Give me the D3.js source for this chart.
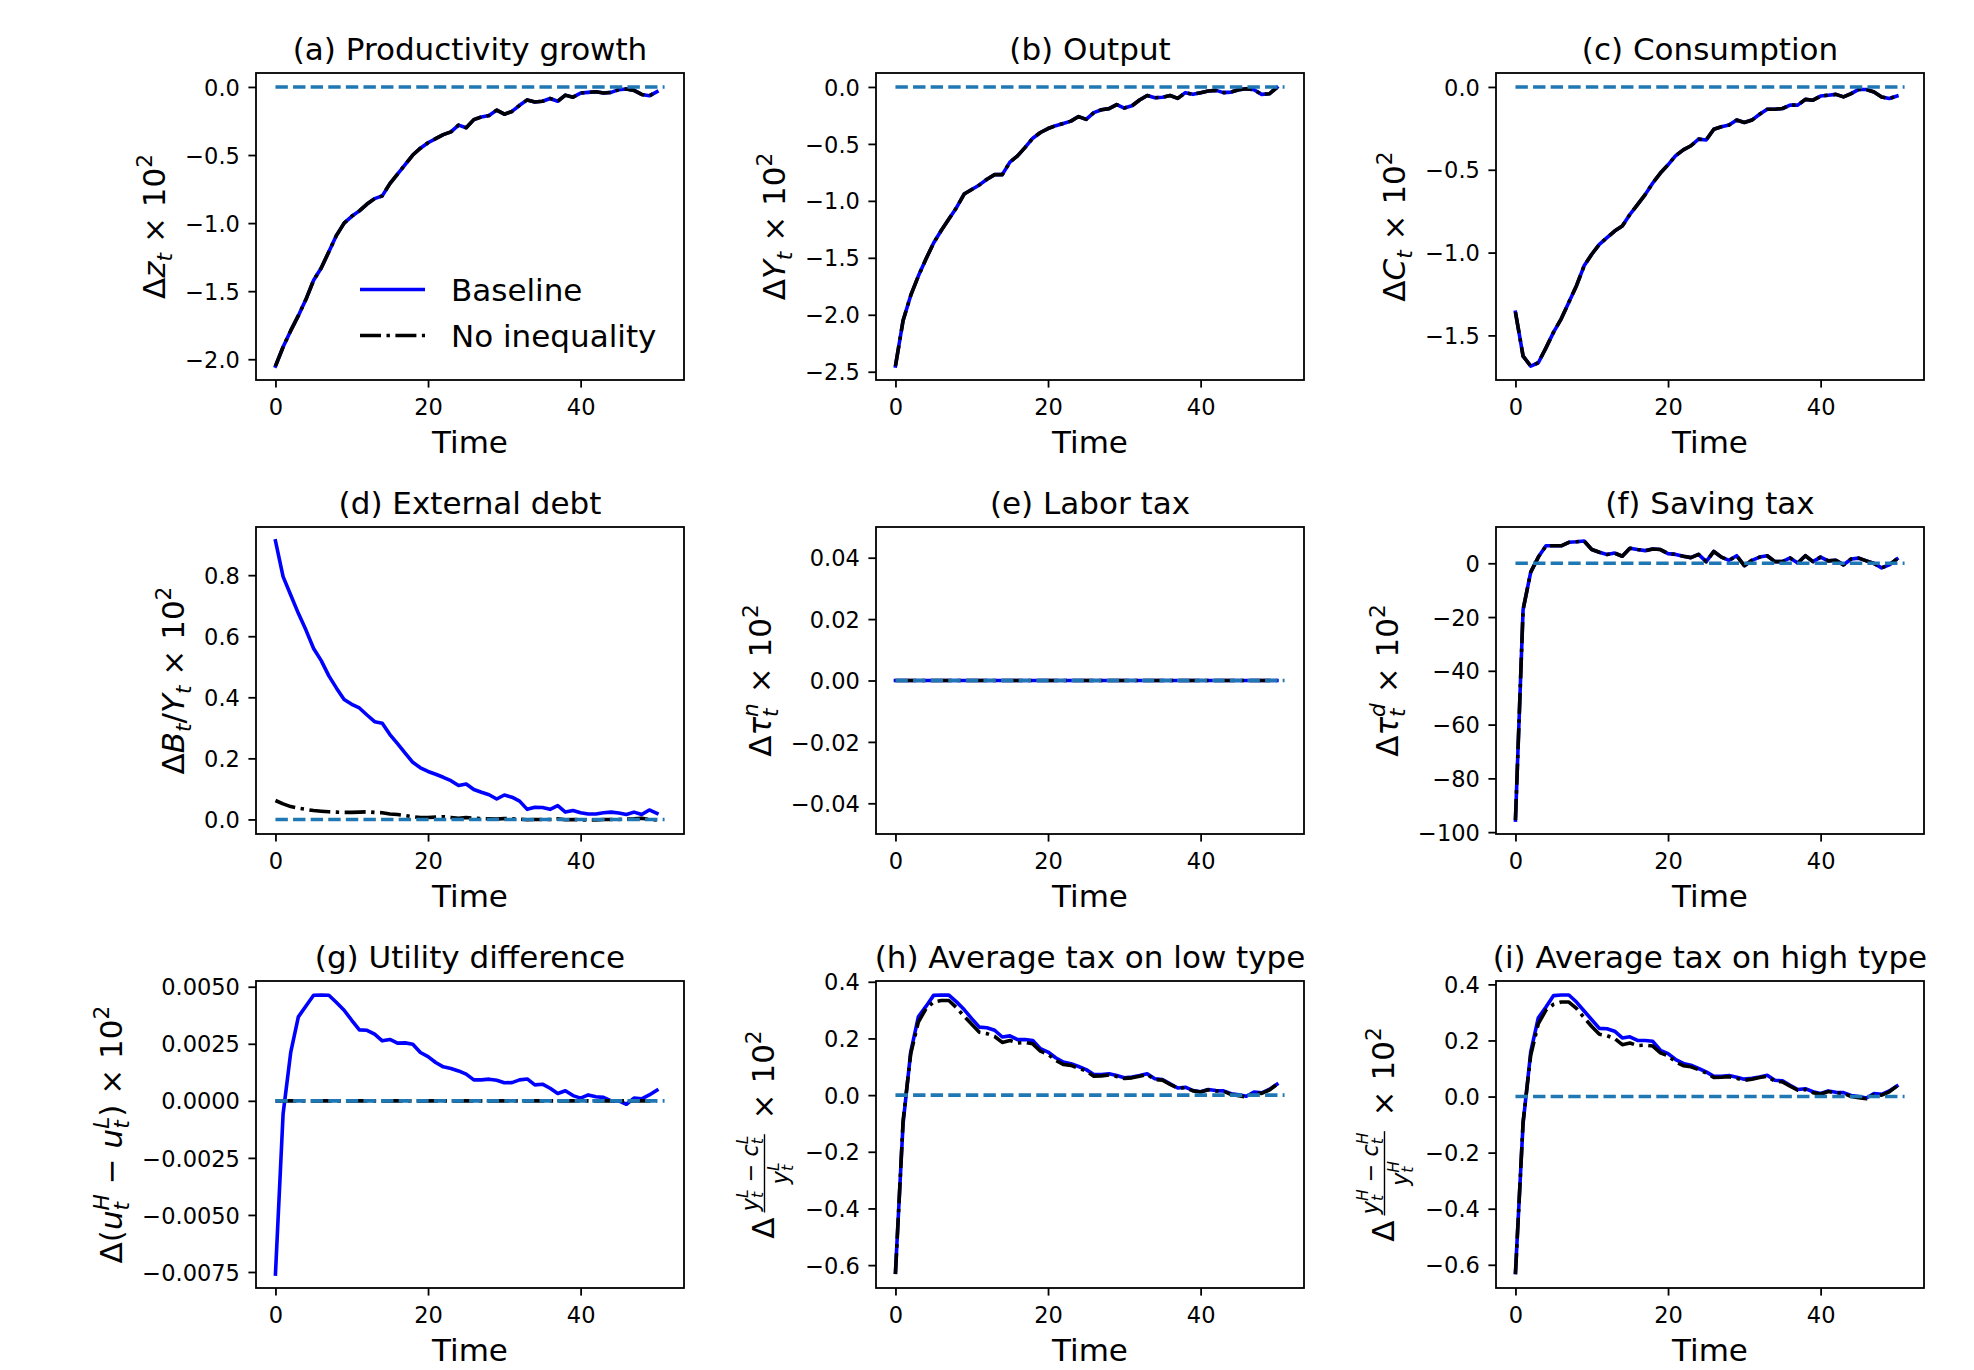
<!DOCTYPE html>
<html>
<head>
<meta charset="utf-8">
<script src="https://cdn.jsdelivr.net/npm/d3@7"></script>
<style>
  body { margin: 0; background: #fff; }
  svg text { font-family: "DejaVu Sans", sans-serif; white-space: pre; }
</style>
</head>
<body>
<svg id="fig" width="1974" height="1370"></svg>
<script>
// ---- data ----
var time = [0,1,2,3,4,5,6,7,8,9,10,11,12,13,14,15,16,17,18,19,20,21,22,23,24,25,
            26,27,28,29,30,31,32,33,34,35,36,37,38,39,40,41,42,43,44,45,46,47,48,49,50];
var zeroSpan = [0, 51];
var xTicks = [0, 20, 40];

var productivity = [-2.05,-1.91,-1.79,-1.68,-1.56,-1.42,-1.33,-1.21,-1.09,-1.00,
  -0.95,-0.91,-0.86,-0.82,-0.80,-0.71,-0.64,-0.57,-0.50,-0.45,
  -0.41,-0.38,-0.35,-0.33,-0.28,-0.30,-0.24,-0.22,-0.21,-0.17,
  -0.20,-0.18,-0.135,-0.095,-0.11,-0.105,-0.085,-0.105,-0.06,-0.075,
  -0.045,-0.04,-0.035,-0.045,-0.04,-0.02,-0.015,-0.025,-0.055,-0.065,-0.035];

var output = [-2.45,-2.05,-1.83,-1.66,-1.51,-1.37,-1.26,-1.16,-1.06,-0.94,
  -0.90,-0.86,-0.81,-0.77,-0.77,-0.66,-0.605,-0.53,-0.45,-0.40,
  -0.365,-0.34,-0.32,-0.30,-0.26,-0.285,-0.225,-0.20,-0.19,-0.155,
  -0.185,-0.165,-0.115,-0.075,-0.095,-0.09,-0.075,-0.10,-0.05,-0.065,
  -0.05,-0.035,-0.03,-0.05,-0.045,-0.025,-0.015,-0.025,-0.065,-0.06,-0.005];

var consumption = [-1.36,-1.625,-1.685,-1.665,-1.575,-1.48,-1.40,-1.30,-1.20,-1.08,
  -1.01,-0.95,-0.91,-0.87,-0.84,-0.77,-0.71,-0.65,-0.58,-0.52,
  -0.47,-0.415,-0.38,-0.355,-0.315,-0.32,-0.255,-0.24,-0.23,-0.20,
  -0.215,-0.20,-0.165,-0.135,-0.135,-0.13,-0.11,-0.11,-0.075,-0.08,
  -0.055,-0.05,-0.045,-0.06,-0.04,-0.015,-0.015,-0.03,-0.06,-0.07,-0.055];

var debtBase = [0.912,0.795,0.735,0.675,0.62,0.56,0.52,0.47,0.43,0.393,
  0.377,0.365,0.342,0.32,0.315,0.278,0.248,0.217,0.187,0.169,
  0.157,0.148,0.138,0.127,0.111,0.116,0.098,0.089,0.081,0.067,
  0.080,0.073,0.06,0.033,0.04,0.039,0.033,0.045,0.024,0.029,
  0.022,0.018,0.018,0.022,0.024,0.021,0.016,0.024,0.016,0.031,0.02];

var debtNoIneq = [0.062,0.051,0.042,0.037,0.033,0.029,0.027,0.025,0.024,0.023,
  0.023,0.024,0.025,0.023,0.022,0.018,0.016,0.013,0.009,0.0065,
  0.0065,0.0075,0.009,0.0065,0.004,0.0065,0.004,0.003,0.002,0.001,
  0.003,0.002,0.001,-0.001,0,0,0,0.002,-0.001,0,
  -0.001,-0.002,-0.002,0,0,0,0.001,0.002,0.004,0,-0.002];

var laborTax = [0,0,0,0,0,0,0,0,0,0,0,0,0,0,0,0,0,0,0,0,0,0,0,0,0,0,
  0,0,0,0,0,0,0,0,0,0,0,0,0,0,0,0,0,0,0,0,0,0,0,0,0];

var savingTax = [-95.5,-17.2,-3.3,2.3,6.5,6.5,6.5,7.8,8.0,8.3,
  5.1,4.1,3.3,3.8,2.6,5.6,5.1,4.7,5.3,5.1,
  3.6,3.3,2.6,2.1,3.3,0.6,4.4,2.3,1.1,2.8,
  -0.9,1.1,2.3,2.8,0.6,0.6,2.0,0.1,2.8,0.6,
  2.3,0.9,1.1,-0.6,1.6,1.9,0.9,-0.1,-1.7,-0.6,1.6];

var utilBase = [-0.00759,-0.00058,0.00212,0.00368,0.00416,0.00463,0.00464,0.00463,0.00431,0.00397,
  0.00353,0.00311,0.00309,0.00292,0.00263,0.00269,0.00253,0.00254,0.00248,0.00212,
  0.00194,0.00168,0.00149,0.00142,0.00131,0.00117,0.00092,0.00092,0.00095,0.0009,
  0.00079,0.0008,0.00092,0.00096,0.0007,0.00073,0.00055,0.00032,0.00044,0.00023,
  0.00012,0.00026,0.00018,0.00015,0,0,-0.00015,0.00012,0.00009,0.00026,0.00047];

var utilNoIneq = [0,0,0,0,0,0,0,0,0,0,0,0,0,0,0,0,0,0,0,0,0,0,0,0,0,0,
  0,0,0,0,0,0,0,0,0,0,0,0,0,0,0,0,0,0,0,0,0,0,0,0,0];

var lowTaxBase = [-0.625,-0.10,0.152,0.276,0.313,0.352,0.3535,0.353,0.329,0.302,
  0.27,0.24,0.238,0.229,0.205,0.209,0.196,0.196,0.193,0.164,
  0.152,0.132,0.117,0.111,0.101,0.09,0.073,0.073,0.075,0.069,
  0.061,0.064,0.069,0.075,0.058,0.055,0.04,0.025,0.028,0.016,
  0.012,0.02,0.016,0.015,0.005,0.001,-0.004,0.011,0.008,0.02,0.038];

var lowTaxNoIneq = [-0.6315,-0.09,0.146,0.258,0.305,0.329,0.334,0.334,0.309,0.278,
  0.25,0.222,0.217,0.207,0.186,0.193,0.184,0.186,0.181,0.155,
  0.144,0.123,0.108,0.105,0.095,0.085,0.067,0.068,0.071,0.066,
  0.059,0.061,0.067,0.073,0.055,0.053,0.038,0.024,0.026,0.015,
  0.011,0.019,0.015,0.014,0.002,-0.002,-0.007,0.008,0.006,0.018,0.038];

var highTaxBase = [-0.628,-0.096,0.159,0.281,0.319,0.36,0.3623,0.362,0.337,0.305,
  0.274,0.243,0.242,0.233,0.209,0.213,0.2,0.2,0.197,0.165,
  0.153,0.132,0.118,0.112,0.1,0.088,0.072,0.072,0.075,0.069,
  0.062,0.065,0.07,0.076,0.058,0.056,0.04,0.025,0.028,0.017,
  0.011,0.02,0.015,0.014,0.004,0,-0.005,0.011,0.008,0.02,0.038];

var highTaxNoIneq = [-0.633,-0.09,0.147,0.26,0.308,0.329,0.337,0.337,0.314,0.281,
  0.25,0.222,0.217,0.207,0.185,0.191,0.182,0.183,0.18,0.156,
  0.145,0.124,0.11,0.106,0.096,0.084,0.068,0.069,0.071,0.065,
  0.058,0.062,0.068,0.072,0.055,0.052,0.037,0.023,0.025,0.014,
  0.008,0.018,0.013,0.012,0,-0.004,-0.008,0.007,0.005,0.017,0.037];

var yTicksA = [-2.0, -1.5, -1.0, -0.5, 0.0];
var yTicksB = [-2.5, -2.0, -1.5, -1.0, -0.5, 0.0];
var yTicksC = [-1.5, -1.0, -0.5, 0.0];
var yTicksD = [0.0, 0.2, 0.4, 0.6, 0.8];
var yTicksE = [-0.04, -0.02, 0.00, 0.02, 0.04];
var yTicksF = [-100, -80, -60, -40, -20, 0];
var yTicksG = [-0.0075, -0.005, -0.0025, 0, 0.0025, 0.005];
var yTicksH = [-0.6, -0.4, -0.2, 0.0, 0.2, 0.4];

var legendLabels = ["Baseline", "No inequality"];

// ---- y-axis labels as little math layouts ----
var sub = function(s) { return {s: s, it: 1, k: 0.7, dy: 0.22}; };
var sup = function(s, it) { return {s: s, it: it, k: 0.7, dy: -0.42, back: 1}; };
var times = [{s: " \u00d7 10"}, {s: "2", k: 0.7, dy: -0.42}];

var panels = [
  {title: "(a) Productivity growth", base: productivity, noIneq: productivity, ticks: yTicksA, fmt: ".1f",
   label: [{s: "\u0394"}, {s: "z", it: 1}, sub("t")].concat(times), legend: true},
  {title: "(b) Output", base: output, noIneq: output, ticks: yTicksB, fmt: ".1f",
   label: [{s: "\u0394"}, {s: "Y", it: 1}, sub("t")].concat(times)},
  {title: "(c) Consumption", base: consumption, noIneq: consumption, ticks: yTicksC, fmt: ".1f",
   label: [{s: "\u0394"}, {s: "C", it: 1}, sub("t")].concat(times)},
  {title: "(d) External debt", base: debtBase, noIneq: debtNoIneq, ticks: yTicksD, fmt: ".1f",
   label: [{s: "\u0394"}, {s: "B", it: 1}, sub("t"), {s: "/"}, {s: "Y", it: 1}, sub("t")].concat(times)},
  {title: "(e) Labor tax", base: laborTax, noIneq: laborTax, ticks: yTicksE, fmt: ".2f",
   label: [{s: "\u0394"}, {s: "\u03c4", it: 1}, sub("t"), sup("n", 1)].concat(times)},
  {title: "(f) Saving tax", base: savingTax, noIneq: savingTax, ticks: yTicksF, fmt: "d",
   label: [{s: "\u0394"}, {s: "\u03c4", it: 1}, sub("t"), sup("d", 1)].concat(times)},
  {title: "(g) Utility difference", base: utilBase, noIneq: utilNoIneq, ticks: yTicksG, fmt: ".4f",
   label: [{s: "\u0394("}, {s: "u", it: 1}, sub("t"), sup("H", 1), {s: " \u2212 "},
           {s: "u", it: 1}, sub("t"), sup("L", 1), {s: ")"}].concat(times)},
  {title: "(h) Average tax on low type", base: lowTaxBase, noIneq: lowTaxNoIneq, ticks: yTicksH, fmt: ".1f",
   label: [{s: "\u0394"}, {frac: [
             [{s: "y", it: 1}, sub("t"), sup("L", 1), {s: " \u2212 "}, {s: "c", it: 1}, sub("t"), sup("L", 1)],
             [{s: "y", it: 1}, sub("t"), sup("L", 1)]]}].concat(times)},
  {title: "(i) Average tax on high type", base: highTaxBase, noIneq: highTaxNoIneq, ticks: yTicksH, fmt: ".1f",
   label: [{s: "\u0394"}, {frac: [
             [{s: "y", it: 1}, sub("t"), sup("H", 1), {s: " \u2212 "}, {s: "c", it: 1}, sub("t"), sup("H", 1)],
             [{s: "y", it: 1}, sub("t"), sup("H", 1)]]}].concat(times)}
];

// ---- layout ----
var colX = [256, 876, 1496], rowY = [73, 527, 981];
var W = 428, H = 307;
var tickFont = 22.5, bigFont = 31;
var tickLen = 7.6, tickPad = 8.5;
var lw = 3.6;

var svg = d3.select("#fig");
svg.append("rect").attr("width", 1974).attr("height", 1370).attr("fill", "#fff");

function padded(ext) {
  var span = ext[1] - ext[0];
  if (span === 0) return [ext[0] - 0.05, ext[1] + 0.05];
  return [ext[0] - 0.05 * span, ext[1] + 0.05 * span];
}

// lays out a row of text pieces, returns its width
function layout(g, items, size, base) {
  var x = 0, lastStart = 0;
  items.forEach(function(it) {
    if (it.frac) {
      var fs = size * 0.72;
      var gap = size * 0.1;
      x += gap;
      var ng = g.append("g"), dg = g.append("g");
      var nw = layout(ng, it.frac[0], fs, 0);
      var dw = layout(dg, it.frac[1], fs, 0);
      var w = Math.max(nw, dw) + size * 0.2;
      ng.attr("transform", "translate(" + (x + (w - nw) / 2) + "," + (base - 0.52 * size) + ")");
      dg.attr("transform", "translate(" + (x + (w - dw) / 2) + "," + (base + 0.46 * size) + ")");
      g.append("line")
        .attr("x1", x + size * 0.06).attr("x2", x + w - size * 0.06)
        .attr("y1", base - 0.3 * size).attr("y2", base - 0.3 * size)
        .attr("stroke", "#000").attr("stroke-width", size * 0.045);
      x += w + gap;
      lastStart = x;
      return;
    }
    var fs = size * (it.k || 1);
    var sx = it.back ? lastStart : x;
    var t = g.append("text")
      .attr("x", sx)
      .attr("y", base + (it.dy || 0) * size)
      .style("font-size", fs + "px")
      .style("font-style", it.it ? "italic" : "normal")
      .text(it.s);
    var w = t.node().getComputedTextLength();
    if (it.back) {
      x = Math.max(x, sx + w);
    } else {
      lastStart = sx;
      x = sx + w;
    }
  });
  return x;
}

panels.forEach(function(p, i) {
  var col = i % 3, row = Math.floor(i / 3);
  var g = svg.append("g").attr("transform", "translate(" + colX[col] + "," + rowY[row] + ")");

  var x = d3.scaleLinear().domain(padded(d3.extent(zeroSpan))).range([0, W]);
  var y = d3.scaleLinear().domain(padded(d3.extent(p.base.concat(p.noIneq, [0])))).range([H, 0]);

  var line = d3.line()
    .x(function(d, k) { return x(time[k]); })
    .y(function(d) { return y(d); });

  g.append("path").datum(p.base)
    .attr("d", line).attr("fill", "none")
    .attr("stroke", "#0000ff").attr("stroke-width", lw)
    .attr("stroke-linejoin", "round").attr("stroke-linecap", "square");

  g.append("path").datum(p.noIneq)
    .attr("d", line).attr("fill", "none")
    .attr("stroke", "#000").attr("stroke-width", lw)
    .attr("stroke-linejoin", "round")
    .attr("stroke-dasharray", "21,5.5,3.4,5.5");

  g.append("line")
    .attr("x1", x(zeroSpan[0])).attr("x2", x(zeroSpan[1]))
    .attr("y1", y(0)).attr("y2", y(0))
    .attr("stroke", "#1f77b4").attr("stroke-width", lw)
    .attr("stroke-dasharray", "12.4,5.2");

  // spines
  g.append("rect").attr("width", W).attr("height", H)
    .attr("fill", "none").attr("stroke", "#000").attr("stroke-width", 1.8);

  var xAxis = g.append("g").attr("transform", "translate(0," + H + ")")
    .call(d3.axisBottom(x).tickValues(xTicks).tickFormat(d3.format("d"))
      .tickSizeInner(tickLen).tickSizeOuter(0).tickPadding(tickPad));
  var yAxis = g.append("g")
    .call(d3.axisLeft(y).tickValues(p.ticks).tickFormat(d3.format(p.fmt))
      .tickSizeInner(tickLen).tickSizeOuter(0).tickPadding(tickPad));

  [xAxis, yAxis].forEach(function(a) {
    a.select(".domain").remove();
    a.attr("font-family", null).attr("font-size", null);
    a.selectAll("line").attr("stroke", "#000").attr("stroke-width", 1.8);
    a.selectAll("text").attr("fill", "#000").style("font-size", tickFont + "px");
  });
  xAxis.selectAll("text").attr("dy", "0.86em");
  yAxis.selectAll("text").attr("dy", "0.36em");

  // title and x label
  g.append("text").attr("x", W / 2).attr("y", -13.5)
    .attr("text-anchor", "middle").style("font-size", bigFont + "px").text(p.title);
  g.append("text").attr("x", W / 2).attr("y", H + 73)
    .attr("text-anchor", "middle").style("font-size", bigFont + "px").text("Time");

  // y label, rotated, right edge just left of the tick labels
  var left = yAxis.node().getBBox().x;
  var lg = g.append("g");
  var inner = lg.append("g");
  layout(inner, p.label, bigFont, 0);
  var bb = inner.node().getBBox();
  lg.attr("transform", "translate(" + (left - 8.3) + "," + (H / 2) + ") rotate(-90)");
  inner.attr("transform", "translate(" + (-(bb.x + bb.width / 2)) + "," + (-(bb.y + bb.height)) + ")");

  if (p.legend) {
    var leg = g.append("g");
    var rows = [{y: 216.5, dash: null, color: "#0000ff"}, {y: 262.5, dash: "21,5.5,3.4,5.5", color: "#000"}];
    rows.forEach(function(r, k) {
      leg.append("line").attr("x1", 104).attr("x2", 169).attr("y1", r.y).attr("y2", r.y)
        .attr("stroke", r.color).attr("stroke-width", lw)
        .attr("stroke-dasharray", r.dash);
      leg.append("text").attr("x", 195).attr("y", r.y).attr("dy", "0.37em")
        .style("font-size", bigFont + "px").text(legendLabels[k]);
    });
  }
});
</script>
</body>
</html>
